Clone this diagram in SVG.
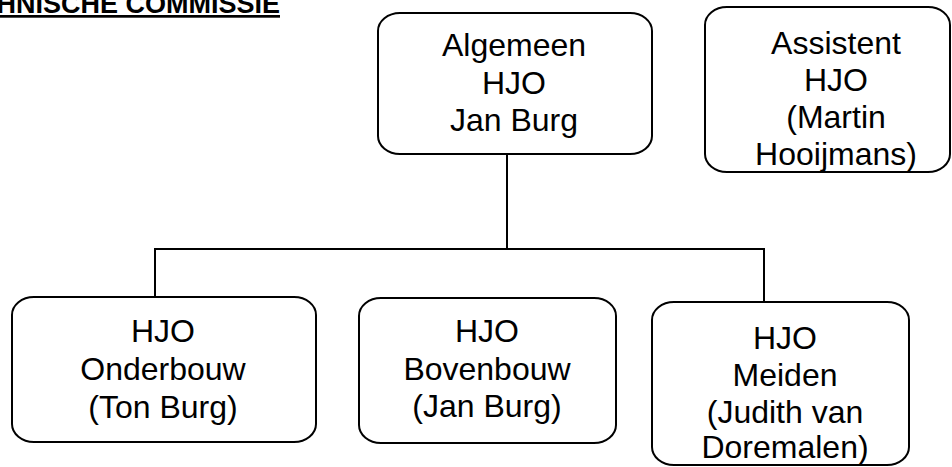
<svg xmlns="http://www.w3.org/2000/svg" width="952" height="467" viewBox="0 0 952 467">
<style>
.box{fill:#fff;stroke:#000;stroke-width:2}
.t{font-family:"Liberation Sans",Arial,sans-serif;font-size:32px;fill:#000;text-anchor:middle}
.title{font-family:"Liberation Sans",Arial,sans-serif;font-size:27px;font-weight:bold;fill:#000;text-anchor:end;text-decoration:underline}
.c{fill:none;stroke:#000;stroke-width:2}
</style>
<rect width="952" height="467" fill="#fff"/>
<text class="title" x="280" y="13">HNISCHE COMMISSIE</text>
<g id="connectors">
<line class="c" x1="507" y1="154" x2="507" y2="249"/>
<polyline class="c" points="155,297 155,249 764,249 764,302"/>
</g>
<g id="algemeen">
<rect class="box" x="378" y="13" width="274" height="141" rx="22" ry="18"/>
<text class="t" x="514" y="56">Algemeen</text>
<text class="t" x="514" y="94">HJO</text>
<text class="t" x="514" y="131">Jan Burg</text>
</g>
<g id="assistent">
<rect class="box" x="705" y="7" width="245" height="165" rx="22" ry="18"/>
<text class="t" x="836" y="54">Assistent</text>
<text class="t" x="836" y="91">HJO</text>
<text class="t" x="836" y="128">(Martin</text>
<text class="t" x="836" y="165">Hooijmans)</text>
</g>
<g id="onderbouw">
<rect class="box" x="12" y="297" width="304" height="145" rx="22" ry="18"/>
<text class="t" x="163" y="342">HJO</text>
<text class="t" x="163" y="380">Onderbouw</text>
<text class="t" x="163" y="418">(Ton Burg)</text>
</g>
<g id="bovenbouw">
<rect class="box" x="359" y="298" width="257" height="145" rx="22" ry="18"/>
<text class="t" x="487" y="342">HJO</text>
<text class="t" x="487" y="380">Bovenbouw</text>
<text class="t" x="487" y="417">(Jan Burg)</text>
</g>
<g id="meiden">
<rect class="box" x="652" y="302" width="257" height="163" rx="22" ry="18"/>
<text class="t" x="785" y="349">HJO</text>
<text class="t" x="785" y="386">Meiden</text>
<text class="t" x="785" y="423">(Judith van</text>
<text class="t" x="785" y="458">Doremalen)</text>
</g>
</svg>
